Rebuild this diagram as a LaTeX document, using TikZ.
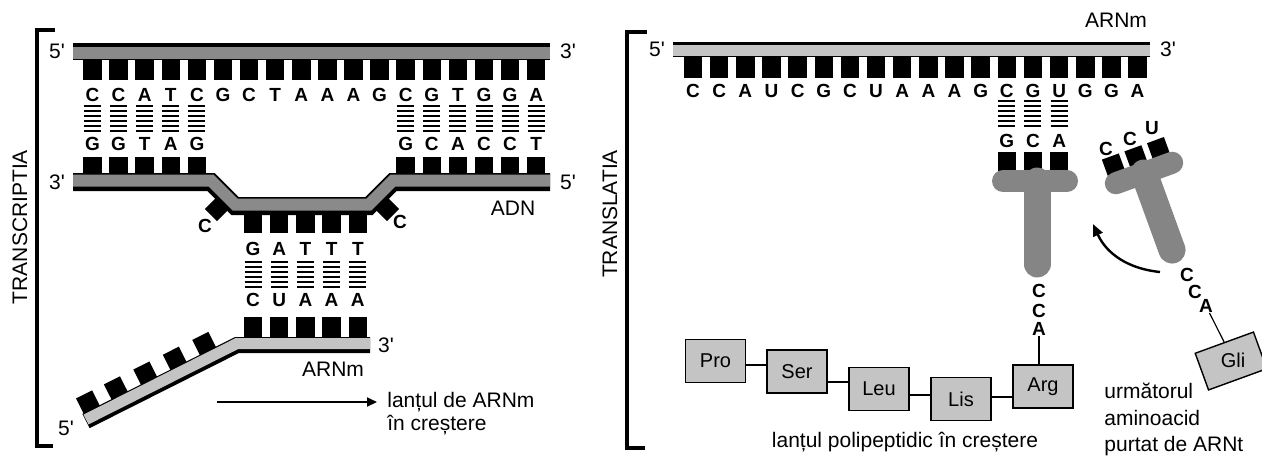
\documentclass[tikz,border=0pt]{standalone}
\usepackage{fontspec}
\setmainfont{Liberation Sans}
\usetikzlibrary{arrows.meta, positioning, calc}
\definecolor{adngray}{HTML}{8A8A8A}
\definecolor{arngray}{HTML}{C4C4C4}
\definecolor{trnagray}{HTML}{858585}
\definecolor{aagray}{HTML}{C4C4C4}

% six short bars between two paired bases, first bar at (#1,#2)
\newcommand{\hbonds}[2]{%
  \foreach \j in {0,...,5} \draw[line width=0.65pt] ({#1-8.5},{#2+5*\j}) -- ++(17,0);}

\begin{document}
\begin{tikzpicture}[x=0.5pt, y=-0.5pt,
    base/.style={font=\fontsize{9.5}{10}\selectfont\bfseries, inner sep=0pt},
    lbl/.style={font=\fontsize{10.5}{12}\selectfont, inner sep=0pt},
    nt/.style={fill=black, inner sep=0pt, minimum size=9pt},
    aa/.style={rectangle, draw=black, line width=0.7pt, fill=aagray, minimum width=30pt, minimum height=21.5pt, font=\fontsize{10}{10}\selectfont, inner sep=0pt},
    link/.style={line width=0.6pt},
    bracket/.style={line width=1.8pt}
]
\useasboundingbox (0,0) rectangle (1262,455);

% ---------- transcription ----------
\draw[bracket] (55,30) -- (37,30) -- (37,446) -- (53,446);
\node[lbl, rotate=90] (transcr) at (20,227) {TRANSCRIPTIA};

% coding strand
\draw[line width=8.5pt] (73,51.5) -- (550,51.5);
\draw[adngray, line width=6pt] (73,53) -- (550,53);
\foreach \b [count=\k from 0] in {C,C,A,T,C,G,C,T,A,A,A,G,C,G,T,G,G,A} {
  \fill ({92.5+26.1*\k-9.25},59) rectangle ++(18.5,21);
  \node[base] (top\k) at ({92.5+26.1*\k},95) {\b};
}

% template strand, opened in the middle
\node[nt, minimum size=8.5pt, rotate=45] (lftc) at (217,209) {};
\node[nt, minimum size=8.5pt, rotate=45] (rgtc) at (387,209) {};
\draw[line width=9pt] (73,182) -- (211,182) -- (235,206) -- (369,206) -- (393,182) -- (550,182);
\draw[adngray, line width=6pt] (73,180.5) -- (211,180.5) -- (235,204.5) -- (369,204.5) -- (393,180.5) -- (550,180.5);
\node[base] (lftcl) at (205,226) {C};
\node[base] (rgtcl) at (400,222) {C};

\foreach \b [count=\k from 0] in {G,G,T,A,G} {
  \hbonds{92.5+26.1*\k}{106}
  \node[base] (bot\k) at ({92.5+26.1*\k},144) {\b};
  \fill ({92.5+26.1*\k-9.25},157) rectangle ++(18.5,17);
}
\foreach \b [count=\k from 12] in {G,C,A,C,C,T} {
  \hbonds{92.5+26.1*\k}{106}
  \node[base] (bot\k) at ({92.5+26.1*\k},144) {\b};
  \fill ({92.5+26.1*\k-9.25},157) rectangle ++(18.5,17);
}

% bubble: template bases and the new ARNm
\foreach \t/\r [count=\i from 0] in {G/C,A/U,T/A,T/A,T/A} {
  \fill ({253+26.2*\i-9.25},214) rectangle ++(18.5,19);
  \node[base] (tpl\i) at ({253+26.2*\i},249) {\t};
  \hbonds{253+26.2*\i}{262}
  \node[base] (rna\i) at ({253+26.2*\i},300) {\r};
  \fill ({253+26.2*\i-9.25},317) rectangle ++(18.5,20);
}
\coordinate (rnaend) at (86,421);
\coordinate (rnabend) at (237,345);
\foreach \t [count=\i] in {0.06,0.245,0.44,0.635,0.83}
  \node[nt, rotate=26.7] (tail\i) at ($($(rnaend)!\t!(rnabend)$)+(-7,-14)$) {};
\draw[line width=8pt] (370,345) -- (rnabend) -- (rnaend);
\draw[arngray, line width=5.5pt] (370,343.5) -- (237,343.5) -- (86,419.5);

\node[lbl] (p5a) at (57,51) {5\textquotesingle};
\node[lbl] (p3a) at (568,51) {3\textquotesingle};
\node[lbl] (p3b) at (57,182) {3\textquotesingle};
\node[lbl] (p5b) at (568,182) {5\textquotesingle};
\node[lbl] (adn) at (513,208) {ADN};
\node[lbl] (p3c) at (386,345) {3\textquotesingle};
\node[lbl] (arnm) at (333,369) {ARNm};
\node[lbl] (p5c) at (66,428) {5\textquotesingle};

\coordinate (growtail) at (217,402);
\node[lbl, anchor=base west] (grow1) at (387,407) {lanțul de ARNm};
\node[lbl, anchor=base west] (grow2) at (387,430) {în creștere};
\draw[line width=1pt, -{Triangle[length=5pt,width=4.5pt]}, shorten >=5pt] (growtail) -- (growtail -| grow1.west);

% ---------- translation ----------
\draw[bracket] (647,32) -- (627,32) -- (627,448) -- (645,448);
\node[lbl, rotate=90] (transl) at (610,214) {TRANSLATIA};

\draw[line width=7.5pt] (673,49.5) -- (1150,49.5);
\draw[arngray, line width=5.5pt] (673,50.5) -- (1150,50.5);
\foreach \b [count=\k from 0] in {C,C,A,U,C,G,C,U,A,A,A,G,C,G,U,G,G,A} {
  \fill ({693+26.15*\k-9.25},56) rectangle ++(18.5,22);
  \node[base] (cod\k) at ({693+26.15*\k},91) {\b};
}
\node[lbl] (p5d) at (657,49) {5\textquotesingle};
\node[lbl] (p3d) at (1168,49) {3\textquotesingle};
\node[lbl] (arnmtop) at (1116,20) {ARNm};

% ARNt bound to the codon
\foreach \b [count=\k from 12] in {G,C,A} {
  \hbonds{693+26.15*\k}{101}
  \node[base] (anti\k) at ({693+26.15*\k},141) {\b};
  \fill ({693+26.15*\k-9.25},152) rectangle ++(18.5,19);
}
\draw[trnagray, line width=11pt, line cap=round] (1003,181) -- (1067,181);
\draw[trnagray, line width=13.5pt, line cap=round] (1037,181) -- (1037,264);
\node[base] (acc1) at (1039,291) {C};
\node[base] (acc2) at (1039,311) {C};
\node[base] (acc3) at (1039,329) {A};

% polypeptide
\node[aa] (pro) at (715.5,361) {Pro};
\node[aa] (ser) at (797,371.5) {Ser};
\node[aa] (leu) at (879,389) {Leu};
\node[aa] (lis) at (961,399) {Lis};
\node[aa] (arg) at (1043,386.5) {Arg};
\draw[link] (pro.east |- 0,365) -- (ser.west |- 0,365);
\draw[link] (ser.east |- 0,382) -- (leu.west |- 0,382);
\draw[link] (leu.east |- 0,395) -- (lis.west |- 0,395);
\draw[link] (lis.east |- 0,397) -- (arg.west |- 0,397);
\draw[link] (acc3) -- (acc3 |- arg.north);
\node[lbl, anchor=base] (chain) at (905,447) {lanțul polipeptidic în creștere};

% incoming ARNt
\begin{scope}[shift={(1144,173)}, rotate=20]
  \foreach \a [count=\i] in {-26,-2,22} \node[nt, rotate=20] (nxt\i) at (\a,-18) {};
  \draw[trnagray, line width=11pt, line cap=round] (-30,0) -- (30,0);
  \draw[trnagray, line width=13.5pt, line cap=round] (0,0) -- (0,82);
\end{scope}
\node[base] (nxtl1) at (1106,149) {C};
\node[base] (nxtl2) at (1130,139) {C};
\node[base] (nxtl3) at (1152,128) {U};
\node[base] (nacc1) at (1187,275) {C};
\node[base] (nacc2) at (1195,292) {C};
\node[base] (nacc3) at (1206,306) {A};

\node[aa, rotate=20, minimum width=31pt, minimum height=19.5pt] (gli) at (1231,361) {};
\node[font=\fontsize{10}{10}\selectfont, inner sep=0pt] (glit) at (1233,360) {Gli};
\draw[link] (nacc3) -- (gli.north);

\coordinate (swingtail) at (1160,272);
\coordinate (swinghead) at (1093,224);
\draw[line width=1.2pt, -{Triangle[length=6pt,width=5pt]}] (swingtail) to[bend left=30] (swinghead);

\node[lbl, anchor=base west] (next1) at (1104,398) {următorul};
\node[lbl, anchor=base west] (next2) at (1104,425) {aminoacid};
\node[lbl, anchor=base west] (next3) at (1104,451) {purtat de ARNt};

\end{tikzpicture}
\end{document}
